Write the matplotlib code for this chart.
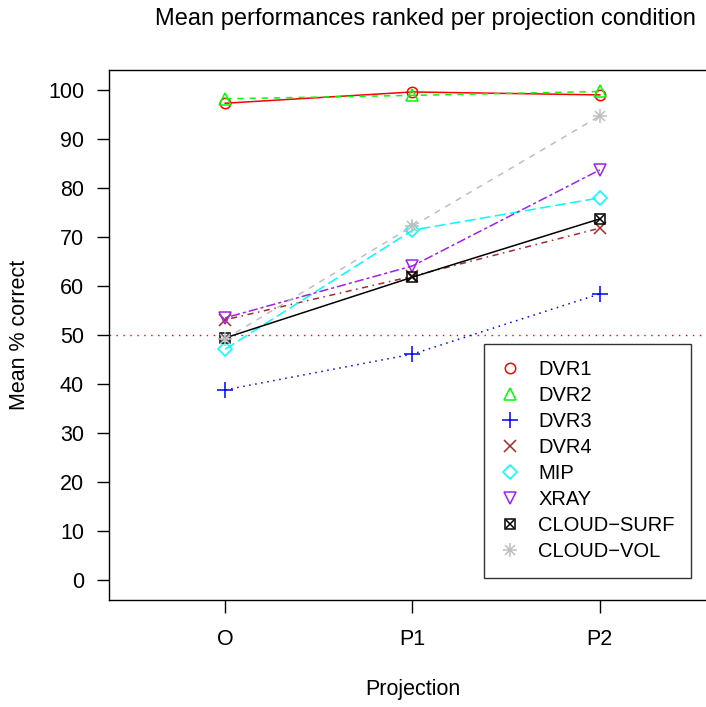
import matplotlib
matplotlib.use("Agg")
import matplotlib.pyplot as plt
from matplotlib.lines import Line2D

plt.rcParams['font.family'] = ['Liberation Sans', 'DejaVu Sans']

conditions = ["O", "P1", "P2"]
methods = ["DVR1", "DVR2", "DVR3", "DVR4", "MIP", "XRAY", "CLOUD\u2212SURF", "CLOUD\u2212VOL"]

dvr1 = [97.3, 99.6, 99.0]
dvr2 = [98.2, 98.9, 99.7]
dvr3 = [38.8, 46.1, 58.4]
dvr4 = [53.1, 62.0, 71.8]
mip = [47.1, 71.4, 78.0]
xray = [53.5, 64.1, 83.7]
cloud_surf = [49.4, 61.8, 73.7]
cloud_vol = [49.2, 72.2, 94.7]
series = [dvr1, dvr2, dvr3, dvr4, mip, xray, cloud_surf, cloud_vol]

chance = 50

colors = ["#FF0000", "#00FF00", "#0000FF", "#A52A2A", "#00FFFF", "#A020F0", "#000000", "#BEBEBE"]
# R lty 1..6 then again
dashes = [None, (4, 4), (1, 3), (1, 3, 4, 3), (7, 3), (2, 2, 6, 2), None, (4, 4)]
markers = ["o", "^", "+", "x", "D", "v", "s", "+"]
extra = [None, None, None, None, None, None, "x", "x"]
msizes = [7.5, 9, 11.5, 8, 7.5, 9, 7.5, 10]

fig = plt.figure(figsize=(7.06, 7.07), dpi=100)
ax = fig.add_axes([109/706, 1 - 600/707, (716 - 109)/706, (600 - 70)/707])

x = list(range(1, len(conditions) + 1))
ax.axhline(chance, color="#FF0000", lw=1.0, dashes=(1, 4), zorder=1)

for vals, c, d, m, e, ms in zip(series, colors, dashes, markers, extra, msizes):
    ln, = ax.plot(x, vals, color=c, lw=1.1)
    if d is not None:
        ln.set_dashes(d)
    ax.plot(x, vals, ls="none", marker=m, ms=ms, mfc="none", mec=c, mew=1.1)
    if e is not None:
        ax.plot(x, vals, ls="none", marker=e, ms=ms * 0.85 if m == "s" else ms * 0.75, mec=c, mew=1.1)

ax.set_xlim(0.38, 3.62)
ax.set_ylim(-4.08, 104.08)
ax.set_xticks(x)
ax.set_xticklabels(conditions)
ax.set_yticks(range(0, 101, 10))
ax.tick_params(length=9, width=1, labelsize=15.5, pad=9)
ax.tick_params(axis="x", pad=12)
for s in ax.spines.values():
    s.set_linewidth(1.0)

fig.text(413/706, 1 - 690/707, "Projection", ha="center", va="center", fontsize=15.5)
fig.text(20/706, 1 - 335/707, "Mean % correct", ha="center", va="center", rotation=90, fontsize=15.5)
fig.text(425/706, 1 - 19/707, "Mean performances ranked per projection condition", ha="center", va="center", fontsize=17)

handles = []
for c, m, ms in zip(colors, markers, msizes):
    handles.append(Line2D([], [], ls="none", marker=m, ms=ms, mfc="none", mec=c, mew=1.1))
handles[6] = (Line2D([], [], ls="none", marker="s", ms=7.5, mfc="none", mec="k", mew=1.1),
              Line2D([], [], ls="none", marker="x", ms=6.4, mec="k", mew=1.1))
handles[7] = (Line2D([], [], ls="none", marker="+", ms=10, mec="#BEBEBE", mew=1.1),
              Line2D([], [], ls="none", marker="x", ms=7.5, mec="#BEBEBE", mew=1.1))
leg = ax.legend(handles, methods, loc="upper left",
                bbox_to_anchor=(484/706, 1 - 344/707), bbox_transform=fig.transFigure,
                fontsize=14.5, frameon=True, fancybox=False, borderaxespad=0,
                borderpad=0.8, labelspacing=0.35, handlelength=1.0, handletextpad=0.9)
leg.get_frame().set_edgecolor("black")
leg.get_frame().set_linewidth(1.0)

fig.savefig("out.png", dpi=100)
